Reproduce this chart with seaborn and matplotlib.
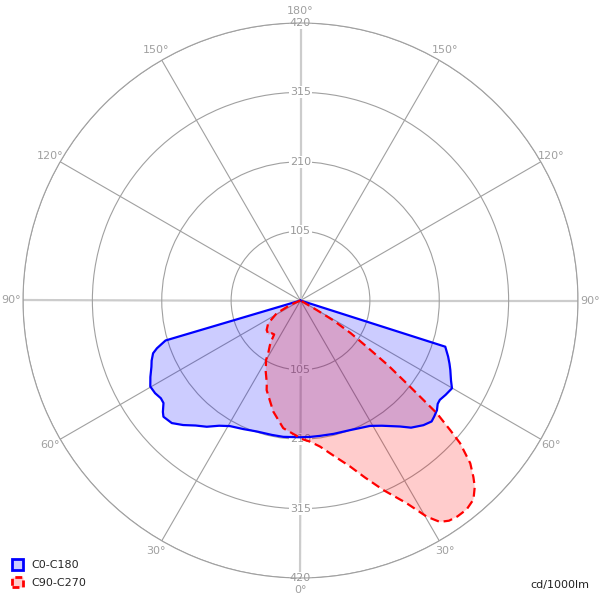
import numpy as np
import seaborn as sns
import matplotlib.pyplot as plt
from matplotlib.patches import Patch

# angles from nadir in degrees (negative = left half), intensities in cd/1000lm
c0_angles = [-90, -73.5, -71.6, -70.3, -68, -66, -63, -60.2, -57.5, -55, -53.2, -51, -49.7,
             -46.4, -43.3, -40, -36.6, -33, -29.3, -24, -18.5, -12, -7.2, 0, 4, 8.2, 14,
             20.9, 25, 29, 33, 38.3, 41, 44.6, 47.3, 49, 51.2, 53, 54.5, 57, 59.9, 62,
             65.1, 67, 69.2, 72.3, 90]
c0_values = [0, 213, 229, 237, 243, 247, 255, 262, 261, 258, 259, 268, 272,
             269, 259, 247, 238, 226, 218, 213, 209, 208, 208, 207, 207, 207, 208,
             210, 213, 217, 226, 243, 255, 265, 270, 268, 265, 260, 259, 262, 265, 258,
             250, 245, 239, 230, 0]

c90_angles = [-70, -66.8, -61.7, -54.7, -48.9, -43, -41.3, -37.8, -36.1, -34.4, -31.4, -30.1,
              -26, -22.2, -20.7, -13.8, -7.7, -1.6, 0, 3.8, 7.6, 12, 16.6, 20, 23.6, 27.6,
              30.3, 32.2, 34, 36, 38.5, 41, 43.1, 44.4, 46.2, 48.2, 49.1, 50.4, 51.8, 53.5,
              55.1, 57, 58.8, 59.6, 62]
c90_values = [0, 17, 41, 60, 68, 71, 66, 65, 74, 82, 94, 104,
              120, 135, 145, 173, 195, 205, 209, 214, 223, 240, 262, 285, 313, 346,
              379, 396, 402, 404, 404, 399, 386, 374, 356, 324, 300, 268, 211, 165,
              122, 90, 58, 28, 0]

r_ticks = [105, 210, 315, 420]
angle_ticks = [0, 30, 60, 90, 120, 150, 180, 210, 240, 270, 300, 330]
angle_labels = ["0°", "30°", "60°", "90°", "120°", "150°", "180°",
                "150°", "120°", "90°", "60°", "30°"]

sns.set_style("white")
plt.rcParams["font.family"] = ["DejaVu Sans"]

fig = plt.figure(figsize=(6, 6), dpi=100)
ax = fig.add_axes([23 / 600, 22 / 600, 555 / 600, 555 / 600], projection="polar")
ax.set_theta_zero_location("S")
ax.set_theta_direction(1)
ax.set_rlim(0, 420)
ax.set_axisbelow(True)

ax.set_xticks(np.deg2rad(angle_ticks))
ax.set_xticklabels([])
ax.set_yticks(r_ticks)
ax.set_yticklabels([])
ax.grid(True, color="#a0a0a0", lw=0.8)
for i, gl in enumerate(ax.xaxis.get_gridlines()):
    if angle_ticks[i] % 90 == 0:
        gl.set_color("#cccccc")
        gl.set_linewidth(1.6)
ax.spines["polar"].set_color("#a0a0a0")
ax.spines["polar"].set_linewidth(0.8)

# angle labels outside the circle
for a, lab in zip(angle_ticks, angle_labels):
    ax.text(np.deg2rad(a), 438, lab, ha="center", va="center", fontsize=8,
            color="#a0a0a0", clip_on=False)

# radial labels on the vertical axis, both up and down
for r in r_ticks:
    for a in (0, 180):
        ax.text(np.deg2rad(a), r, str(r), ha="center", va="center", fontsize=8,
                color="#999999", zorder=1,
                bbox=dict(boxstyle="square,pad=0.1", fc="white", ec="none"))

th0 = np.deg2rad(c0_angles)
th90 = np.deg2rad(c90_angles)

ax.fill(th0, c0_values, color="blue", alpha=0.2, lw=0, zorder=2)
ax.fill(th90, c90_values, color="red", alpha=0.2, lw=0, zorder=2)
sns.lineplot(x=th0, y=c0_values, ax=ax, sort=False, estimator=None,
             color="blue", lw=1.6, zorder=3)
sns.lineplot(x=th90, y=c90_values, ax=ax, sort=False, estimator=None,
             color="red", lw=1.6, linestyle=(0, (4, 2.2)), zorder=3)
ax.set_xlabel("")
ax.set_ylabel("")
ax.set_rlim(0, 420)

handles = [Patch(facecolor="#ccccff", edgecolor="blue", lw=2, label="C0-C180"),
           Patch(facecolor="#ffcccc", edgecolor="red", lw=2, linestyle=(0, (2.5, 1.5)),
                 label="C90-C270")]
fig.legend(handles=handles, loc="lower left", bbox_to_anchor=(0.0, 0.0), frameon=False,
           fontsize=8, handlelength=1.0, handleheight=1.1, handletextpad=0.7,
           labelspacing=0.6, borderpad=0.6)
fig.text(0.983, 0.025, "cd/1000lm", ha="right", va="center", fontsize=8, color="#222222")

fig.savefig("out.png", dpi=100)
